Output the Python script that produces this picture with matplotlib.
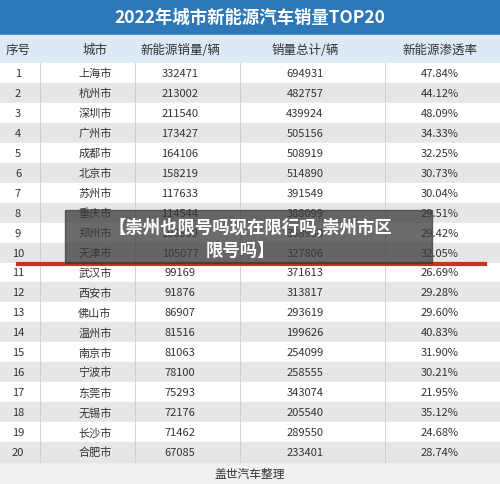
import matplotlib
matplotlib.use("Agg")
import matplotlib.pyplot as plt
from matplotlib.patches import Rectangle

plt.rcParams['font.family'] = ['Noto Sans CJK SC', 'DejaVu Sans']

title = "2022年城市新能源汽车销量TOP20"
headers = ["序号", "城市", "新能源销量/辆", "销量总计/辆", "新能源渗透率"]
ranks = list(range(1, 21))
cities = ["上海市", "杭州市", "深圳市", "广州市", "成都市", "北京市", "苏州市", "重庆市", "郑州市", "天津市",
          "武汉市", "西安市", "佛山市", "温州市", "南京市", "宁波市", "东莞市", "无锡市", "长沙市", "合肥市"]
nev_sales = [332471, 213002, 211540, 173427, 164106, 158219, 117633, 114544, 108539, 105077,
             99169, 91876, 86907, 81516, 81063, 78100, 75293, 72176, 71462, 67085]
total_sales = [694931, 482757, 439924, 505156, 508919, 514890, 391549, 388099, 368930, 327806,
               371613, 313817, 293619, 199626, 254099, 258555, 343074, 205540, 289550, 233401]
rates = ["47.84%", "44.12%", "48.09%", "34.33%", "32.25%", "30.73%", "30.04%", "29.51%", "29.42%", "32.05%",
         "26.69%", "29.28%", "29.60%", "40.83%", "31.90%", "30.21%", "21.95%", "35.12%", "24.68%", "28.74%"]
footer = "盖世汽车整理"
overlay = ["【崇州也限号吗现在限行吗,崇州市区", "限号吗】"]

W, H = 500, 485
fig = plt.figure(figsize=(W/100, H/100), dpi=100)
ax = fig.add_axes([0, 0, 1, 1])
ax.set_xlim(0, W); ax.set_ylim(H, 0); ax.axis('off')
ax.add_patch(Rectangle((0, 0), W, H, color='#f0f0f0', zorder=0))

ax.add_patch(Rectangle((0, 0), W, 36, color='#2f78b8', zorder=1))
ax.text(250, 18, title, color='white', fontsize=12.5, fontweight='bold', ha='center', va='center', zorder=2)
ax.add_patch(Rectangle((0, 36), W, 28, color='#dde9f5', zorder=1))
colx = [18, 95, 180, 305, 440]
for x, h in zip(colx, headers):
    ax.text(x, 50, h, fontsize=9, color='#333333', ha='center', va='center', zorder=2)

top, rh = 64, 19.95
for i in range(20):
    y0 = top + i * rh
    yc = y0 + rh / 2
    ax.add_patch(Rectangle((0, y0), W, rh, color='#ffffff' if i % 2 == 0 else '#e6e6e6', zorder=1))
    vals = [str(ranks[i]), cities[i], str(nev_sales[i]), str(total_sales[i]), rates[i]]
    for x, v in zip(colx, vals):
        ax.text(x, yc, v, fontsize=8, color='#333333', ha='center', va='center', zorder=2)
for x in [40, 135, 240, 385]:
    ax.plot([x, x], [64, top + 20 * rh], color='#cccccc', lw=0.6, zorder=1.5)

ax.plot([18, 485], [top + 10 * rh + 1, top + 10 * rh + 1], color='#c8341f', lw=3, zorder=3)
ax.text(250, 475, footer, fontsize=8.5, color='#333333', ha='center', va='center', zorder=2)

ax.add_patch(Rectangle((65, 211), 367, 53, color='#3a3a3a', alpha=0.75, zorder=4))
ax.text(250, 227, overlay[0], fontsize=12.5, fontweight='bold', color='white', ha='center', va='center', zorder=5)
ax.text(240, 251, overlay[1], fontsize=12.5, fontweight='bold', color='white', ha='center', va='center', zorder=5)

fig.savefig('out.png', dpi=100)
